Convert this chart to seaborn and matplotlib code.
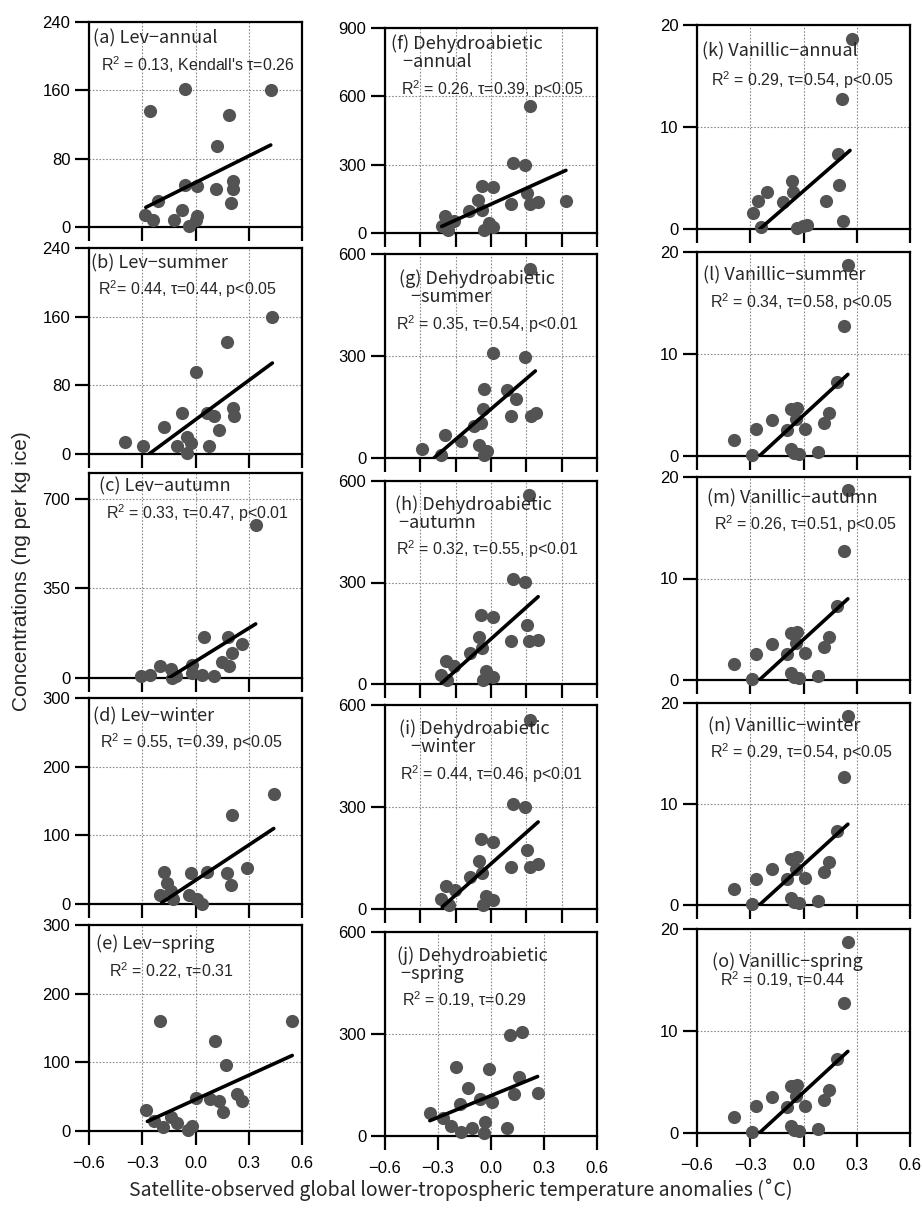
import numpy as np
import pandas as pd
import seaborn as sns
import matplotlib.pyplot as plt

#########################
# Data
#########################

# Lev
lev_annual_x = [-0.286, -0.239, -0.21, -0.258, -0.121, -0.074, -0.061, -0.059, -0.037, 0.007,
                0.001, 0.01, 0.114, 0.123, 0.189, 0.202, 0.213, 0.213, 0.424]
lev_annual_y = [14, 8, 30, 136, 8, 20, 49, 161, 1.5, 13, 8, 48, 44, 95, 131, 28, 54, 44, 160]
lev_annual_line = [[-0.28, 0.424], [23, 96]]

lev_summer_x = [-0.397, -0.294, -0.177, -0.078, -0.106, -0.046, -0.027, -0.05, 0.001, 0.067,
                0.104, 0.076, 0.132, 0.179, 0.211, 0.217, 0.433]
lev_summer_y = [14, 9, 31, 48, 9, 20, 13, 1, 95, 48, 44, 9, 28, 131, 54, 44, 160]
lev_summer_line = [[-0.262, 0.433], [0, 106]]

lev_autumn_x = [-0.306, -0.258, -0.198, -0.136, -0.132, -0.11, -0.019, -0.019, 0.034, 0.047,
                0.104, 0.151, 0.189, 0.185, 0.204, 0.26, 0.339]
lev_autumn_y = [6, 10, 48, 35, 0, 6, 52, 19, 13, 160, 6, 61, 45, 160, 97, 133, 596]
lev_autumn_line = [[-0.151, 0.339], [0, 211]]

lev_winter_x = [-0.177, -0.2, -0.158, -0.139, -0.124, -0.036, -0.023, 0.011, 0.035, 0.067,
                0.179, 0.202, 0.207, 0.292, 0.441]
lev_winter_y = [47, 13, 30, 19, 7, 13, 45, 7, 0, 47, 45, 27, 130, 53, 160]
lev_winter_line = [[-0.19, 0.441], [2, 110]]

lev_spring_x = [-0.277, -0.234, -0.183, -0.2, -0.14, -0.103, -0.041, -0.018, 0.005, 0.08,
                0.132, 0.11, 0.155, 0.174, 0.236, 0.264, 0.545]
lev_spring_y = [30, 15, 6, 160, 21, 12, 1.5, 7, 48, 46, 44, 131, 28, 96, 54, 44, 160]
lev_spring_line = [[-0.271, 0.545], [14, 110]]

# Dehydroabietic
dehy_annual_x = [-0.279, -0.26, -0.241, -0.209, -0.122, -0.071, -0.052, -0.052, -0.037, -0.014,
                 0.011, 0.011, 0.113, 0.122, 0.194, 0.203, 0.218, 0.218, 0.266, 0.424]
dehy_annual_y = [29, 73, 15, 51, 95, 146, 102, 205, 15, 44, 26, 202, 129, 307, 300, 176, 556,
                 129, 136, 139]
dehy_annual_line = [[-0.279, 0.424], [29, 275]]

dehy_summer_x = [-0.389, -0.285, -0.263, -0.167, -0.097, -0.069, -0.059, -0.044, -0.041, -0.041,
                 -0.021, 0.01, 0.088, 0.114, 0.144, 0.191, 0.219, 0.227, 0.257]
dehy_summer_y = [27, 10, 67, 51, 93, 39, 103, 143, 204, 10, 22, 310, 200, 123, 175, 298, 556,
                 123, 131]
dehy_summer_line = [[-0.323, 0.251], [0, 256]]

dehy_autumn_x = [-0.285, -0.257, -0.247, -0.21, -0.12, -0.069, -0.05, -0.055, -0.031, -0.044,
                 0.012, 0.012, 0.114, 0.123, 0.191, 0.201, 0.214, 0.214, 0.267]
dehy_autumn_y = [27, 67, 13, 52, 91, 140, 106, 204, 37, 13, 22, 199, 126, 311, 301, 175, 126,
                 559, 131]
dehy_autumn_line = [[-0.285, 0.267], [0, 258]]

dehy_winter_x = [-0.285, -0.257, -0.238, -0.206, -0.12, -0.069, -0.05, -0.055, -0.031, -0.044,
                 0.012, 0.012, 0.114, 0.123, 0.191, 0.203, 0.218, 0.218, 0.267]
dehy_winter_y = [29, 68, 13, 56, 95, 141, 105, 205, 39, 13, 27, 198, 125, 310, 300, 173, 125,
                 555, 132]
dehy_winter_line = [[-0.276, 0.267], [6, 256]]

dehy_spring_x = [-0.347, -0.27, -0.225, -0.172, -0.2, -0.176, -0.129, -0.106, -0.063, -0.035,
                 -0.041, -0.012, 0.007, 0.092, 0.11, 0.133, 0.157, 0.176, 0.264]
dehy_spring_y = [68, 52, 29, 11, 204, 95, 142, 24, 110, 40, 10, 198, 100, 24, 297, 125, 175,
                 307, 127]
dehy_spring_line = [[-0.346, 0.264], [45, 175]]

# Vanillic
van_annual_x = [-0.284, -0.259, -0.208, -0.24, -0.118, -0.067, -0.058, -0.036, -0.005, 0.017,
                0.126, 0.192, 0.201, 0.22, 0.215, 0.271]
van_annual_y = [1.57, 2.7, 3.6, 0.16, 2.6, 4.67, 3.6, 0.1, 0.26, 0.42, 2.7, 7.35, 4.27, 0.75,
                12.7, 18.6]
van_annual_line = [[-0.246, 0.262], [0, 7.7]]

# the four seasonal vanillic panels show the same points
van_season_x = [-0.392, -0.288, -0.269, -0.175, -0.093, -0.071, -0.039, -0.042, -0.071, -0.052,
                -0.023, 0.009, 0.08, 0.113, 0.143, 0.19, 0.228, 0.25]
van_season_y = [1.54, 0.07, 2.6, 3.54, 2.56, 4.6, 4.75, 3.6, 0.66, 0.33, 0.16, 2.68, 0.39, 3.28,
                4.26, 7.28, 12.7, 18.7]
van_season_line = [[-0.249, 0.25], [0, 8.0]]

# panel titles / stats
titles = ["(a) Lev\u2212annual", "(b) Lev\u2212summer", "(c) Lev\u2212autumn",
          "(d) Lev\u2212winter", "(e) Lev\u2212spring",
          "(f) Dehydroabietic\n   \u2212annual", "(g) Dehydroabietic\n   \u2212summer",
          "(h) Dehydroabietic\n \u2212autumn", "(i) Dehydroabietic\n   \u2212winter",
          "(j) Dehydroabietic\n \u2212spring",
          "(k) Vanillic\u2212annual", "(l) Vanillic\u2212summer", "(m) Vanillic\u2212autumn",
          "(n) Vanillic\u2212winter", "(o) Vanillic\u2212spring"]
stats = ["R$^2$ = 0.13, Kendall's \u03c4=0.26", "R$^2$= 0.44, \u03c4=0.44, p<0.05",
         "R$^2$ = 0.33, \u03c4=0.47, p<0.01", "R$^2$ = 0.55, \u03c4=0.39, p<0.05",
         "R$^2$ = 0.22, \u03c4=0.31",
         "R$^2$ = 0.26, \u03c4=0.39, p<0.05", "R$^2$ = 0.35, \u03c4=0.54, p<0.01",
         "R$^2$ = 0.32, \u03c4=0.55, p<0.01", "R$^2$ = 0.44, \u03c4=0.46, p<0.01",
         "R$^2$ = 0.19, \u03c4=0.29",
         "R$^2$ = 0.29, \u03c4=0.54, p<0.05", "R$^2$ = 0.34, \u03c4=0.58, p<0.05",
         "R$^2$ = 0.26, \u03c4=0.51, p<0.05", "R$^2$ = 0.29, \u03c4=0.54, p<0.05",
         "R$^2$ = 0.19, \u03c4=0.44"]

panel_x = [lev_annual_x, lev_summer_x, lev_autumn_x, lev_winter_x, lev_spring_x,
           dehy_annual_x, dehy_summer_x, dehy_autumn_x, dehy_winter_x, dehy_spring_x,
           van_annual_x, van_season_x, van_season_x, van_season_x, van_season_x]
panel_y = [lev_annual_y, lev_summer_y, lev_autumn_y, lev_winter_y, lev_spring_y,
           dehy_annual_y, dehy_summer_y, dehy_autumn_y, dehy_winter_y, dehy_spring_y,
           van_annual_y, van_season_y, van_season_y, van_season_y, van_season_y]
panel_line = [lev_annual_line, lev_summer_line, lev_autumn_line, lev_winter_line, lev_spring_line,
              dehy_annual_line, dehy_summer_line, dehy_autumn_line, dehy_winter_line,
              dehy_spring_line,
              van_annual_line, van_season_line, van_season_line, van_season_line, van_season_line]

yticks = [[0, 80, 160, 240], [0, 80, 160, 240], [0, 350, 700], [0, 100, 200, 300],
          [0, 100, 200, 300],
          [0, 300, 600, 900], [0, 300, 600], [0, 300, 600], [0, 300, 600], [0, 300, 600],
          [0, 10, 20], [0, 10, 20], [0, 10, 20], [0, 10, 20], [0, 10, 20]]
ytop = [240, 240, 800, 300, 300, 900, 600, 600, 600, 600, 20, 20, 20, 20, 20]

xticks_03 = [-0.6, -0.3, 0.0, 0.3, 0.6]
xticks_02 = [-0.6, -0.4, -0.2, 0.0, 0.2, 0.4, 0.6]
xtick_labels = ["\u22120.6", "\u22120.3", "0.0", "0.3", "0.6"]

#########################
# Layout (pixel boxes of each panel)
#########################
W, H = 922, 1208
col_lr = [(89, 302), (385, 597), (697, 910)]
col_tb = [[(22, 227), (248, 454), (473, 678), (698, 904), (925, 1131)],
          [(28, 233), (254, 458), (481, 684), (705, 909), (932, 1136)],
          [(25, 229), (252, 456), (477, 680), (703, 905), (929, 1133)]]

# text anchor positions in axes fraction
title_pos = [(0.02, 0.92), (0.01, 0.925), (0.047, 0.933), (0.02, 0.912), (0.035, 0.91),
             (0.03, 0.88), (0.068, 0.835), (0.047, 0.84), (0.068, 0.84), (0.055, 0.84),
             (0.022, 0.87), (0.03, 0.883), (0.045, 0.896), (0.053, 0.886), (0.069, 0.84)]
stats_pos = [(0.056, 0.79), (0.04, 0.80), (0.08, 0.805), (0.05, 0.787), (0.094, 0.78),
             (0.074, 0.70), (0.052, 0.657), (0.052, 0.663), (0.07, 0.659), (0.079, 0.668),
             (0.064, 0.732), (0.061, 0.752), (0.08, 0.766), (0.061, 0.756), (0.108, 0.751)]

#########################
# Plot
#########################
sns.set_style("ticks")
plt.rcParams['font.family'] = ['Liberation Sans', 'DejaVu Sans']
plt.rcParams['mathtext.fontset'] = 'custom'
plt.rcParams['mathtext.rm'] = 'Liberation Sans'
plt.rcParams['mathtext.it'] = 'Liberation Sans:italic'

fig = plt.figure(figsize=(W / 100, H / 100), dpi=100)
jp_font = ['Noto Sans CJK JP', 'DejaVu Sans']

for i in range(15):
    col, row = i // 5, i % 5
    l, r = col_lr[col]
    t, b = col_tb[col][row]
    ax = fig.add_axes([l / W, 1 - b / H, (r - l) / W, (b - t) / H])

    sns.scatterplot(x=panel_x[i], y=panel_y[i], ax=ax, color='#535353', s=90,
                    linewidth=0, clip_on=False, zorder=3)
    sns.lineplot(x=panel_line[i][0], y=panel_line[i][1], ax=ax, color='black',
                 linewidth=2.6, zorder=4)

    ax.set_xlim(-0.6, 0.6)
    ax.set_ylim(0, ytop[i])
    ax.set_yticks(yticks[i])
    ax.set_yticklabels([str(v) for v in yticks[i]])
    if col == 1 and row < 4:
        ax.set_xticks(xticks_02)
    else:
        ax.set_xticks(xticks_03)
    if row == 4:
        ax.set_xticklabels(xtick_labels)
        ax.tick_params(axis='x', pad=8)
    else:
        ax.set_xticklabels([])

    ax.grid(True, linestyle=(0, (1.5, 1.5)), color='#8c8c8c', linewidth=0.8)
    ax.set_axisbelow(True)
    for sp in ax.spines.values():
        sp.set_linewidth(1.6)
        sp.set_color('black')
    ax.tick_params(axis='both', direction='out', length=10, width=1.6,
                   labelsize=12, colors='black')

    tx, ty = title_pos[i]
    ax.text(tx, ty, titles[i], transform=ax.transAxes, ha='left', va='center',
            fontsize=13, family=jp_font, linespacing=1.0, zorder=5)
    sx, sy = stats_pos[i]
    ax.text(sx, sy, stats[i], transform=ax.transAxes, ha='left', va='center',
            fontsize=11.5, zorder=5)

fig.text(22 / W, 1 - 571 / H, "Concentrations (ng per kg ice)", rotation=90,
         ha='center', va='center', fontsize=15)
fig.text(461 / W, 1 - 1190 / H,
         "Satellite-observed global lower-tropospheric temperature anomalies (\u02daC)",
         ha='center', va='center', fontsize=14, family=jp_font)

plt.savefig('out.png', dpi=100)
